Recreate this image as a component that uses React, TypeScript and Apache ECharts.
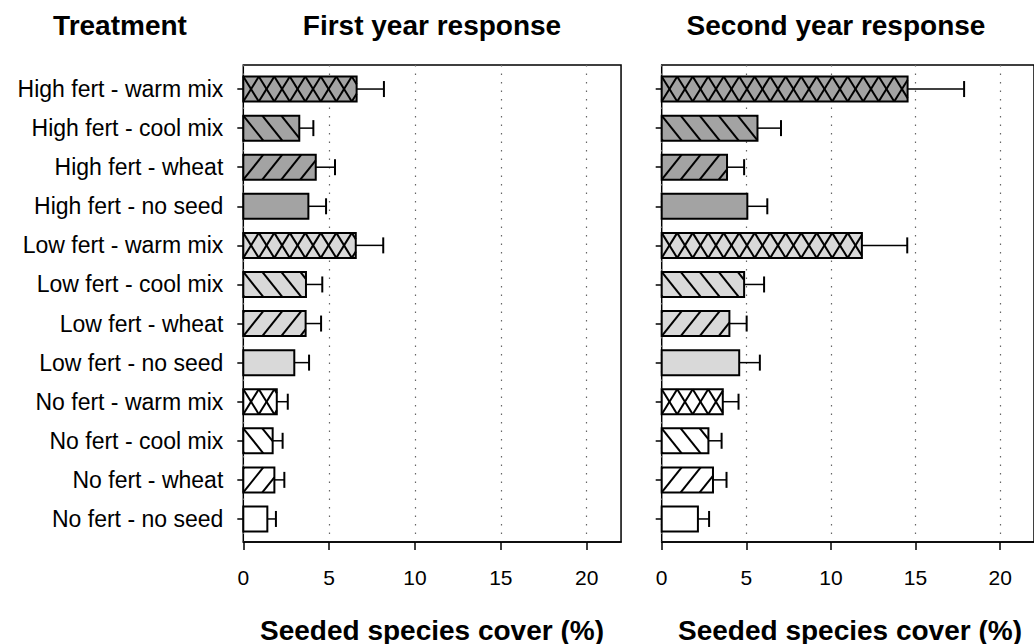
import React, { useEffect, useRef } from "react";
import * as echarts from "echarts";

const categories = [
  "High fert - warm mix",
  "High fert - cool mix",
  "High fert - wheat",
  "High fert - no seed",
  "Low fert - warm mix",
  "Low fert - cool mix",
  "Low fert - wheat",
  "Low fert - no seed",
  "No fert - warm mix",
  "No fert - cool mix",
  "No fert - wheat",
  "No fert - no seed",
];
const fertLevel = [0, 0, 0, 0, 1, 1, 1, 1, 2, 2, 2, 2];
const seedMix = ["warm", "cool", "wheat", "none", "warm", "cool", "wheat", "none", "warm", "cool", "wheat", "none"];

const firstYearMean = [6.6, 3.26, 4.22, 3.79, 6.55, 3.65, 3.63, 2.97, 1.95, 1.71, 1.81, 1.4];
const firstYearSE = [1.59, 0.82, 1.12, 1.03, 1.6, 0.95, 0.9, 0.86, 0.64, 0.58, 0.58, 0.5];
const secondYearMean = [14.53, 5.66, 3.86, 5.06, 11.83, 4.87, 4.0, 4.58, 3.61, 2.76, 3.03, 2.14];
const secondYearSE = [3.34, 1.39, 1.01, 1.18, 2.68, 1.18, 1.02, 1.22, 0.93, 0.78, 0.8, 0.66];

const xTicks = [0, 5, 10, 15, 20];
const xMax = 22;

const FONT = '"Liberation Sans", Arial, Helvetica, sans-serif';
const fertFill = ["#a3a3a3", "#d9d9d9", "#ffffff"];

function hatchLines(x0: number, x1: number, yt: number, yb: number, p: number, d: number, dir: number) {
  const out: any[] = [];
  if (x1 - x0 < 1) return out;
  const kStart = -Math.ceil(d / p) - 1;
  for (let k = kStart; x0 + k * p < x1; k++) {
    const o = x0 + k * p;
    const tlo = Math.max(0, (x0 - o) / d);
    const thi = Math.min(1, (x1 - o) / d);
    if (tlo >= thi) continue;
    const ya = dir === 1 ? yb : yt;
    const yz = dir === 1 ? yt : yb;
    out.push({
      type: "line",
      shape: {
        x1: o + d * tlo,
        y1: ya + (yz - ya) * tlo,
        x2: o + d * thi,
        y2: ya + (yz - ya) * thi,
      },
      style: { stroke: "#000", lineWidth: 2 },
      silent: true,
    });
  }
  return out;
}

function makeRenderItem() {
  return (params: any, api: any) => {
    const val = api.value(0);
    const idx = api.value(1);
    const se = api.value(2);
    const p0 = api.coord([0, idx]);
    const p1 = api.coord([val, idx]);
    const pe = api.coord([val + se, idx]);
    const h = 25;
    const yc = p0[1];
    const yt = yc - h / 2;
    const yb = yc + h / 2;
    const x0 = p0[0];
    const x1 = p1[0];
    const fill = fertFill[fertLevel[idx]];
    const mix = seedMix[idx];
    let hatch: any[] = [];
    if (mix === "warm") {
      hatch = hatch.concat(hatchLines(x0, x1, yt, yb, 15.5, 15.5, 1));
      hatch = hatch.concat(hatchLines(x0, x1, yt, yb, 15.5, 15.5, -1));
    } else if (mix === "cool") {
      hatch = hatchLines(x0, x1, yt, yb, 19, 20, -1);
    } else if (mix === "wheat") {
      hatch = hatchLines(x0, x1, yt, yb, 19, 20, 1);
    }
    return {
      type: "group",
      children: [
        { type: "rect", shape: { x: x0, y: yt, width: x1 - x0, height: h }, style: { fill, stroke: "none" } },
        ...hatch,
        {
          type: "rect",
          shape: { x: x0, y: yt, width: x1 - x0, height: h },
          style: { fill: "none", stroke: "#000", lineWidth: 2 },
        },
        { type: "line", shape: { x1: x1, y1: yc, x2: pe[0], y2: yc }, style: { stroke: "#000", lineWidth: 1.5 } },
        { type: "line", shape: { x1: pe[0], y1: yc - 8, x2: pe[0], y2: yc + 8 }, style: { stroke: "#000", lineWidth: 2 } },
      ],
    };
  };
}

function frameXAxis(gridIndex: number) {
  return {
    type: "value",
    gridIndex,
    min: 0,
    max: xMax,
    position: "bottom",
    axisLine: { show: true, lineStyle: { color: "#000", width: 1.5 } },
    axisTick: { show: true, length: 8, customValues: xTicks, lineStyle: { color: "#000", width: 1.5 } },
    axisLabel: {
      show: true,
      customValues: xTicks,
      margin: 25,
      fontSize: 21,
      color: "#000",
      fontFamily: FONT,
    },
    splitLine: { show: true, lineStyle: { color: "#666", width: 1.2, type: [1.5, 7] } },
  };
}

function barXAxis(gridIndex: number) {
  return { type: "value", gridIndex, min: 0, max: xMax, show: false };
}

function catYAxis(gridIndex: number, showLabels: boolean) {
  return {
    type: "category",
    gridIndex,
    data: categories,
    inverse: true,
    axisLine: { show: false },
    axisTick: { show: true, alignWithLabel: true, length: 6, lineStyle: { color: "#000", width: 1.5 } },
    axisLabel: { show: showLabels, fontSize: 23, color: "#000", margin: 20, fontFamily: FONT },
    splitLine: { show: false },
  };
}

export default function App() {
  const ref = useRef<HTMLDivElement>(null);
  useEffect(() => {
    if (!ref.current) return;
    const chart = echarts.init(ref.current, undefined, { renderer: "svg" });
    const leftX = 243.3;
    const leftW = 17.17 * xMax;
    const rightX = 661.7;
    const rightW = 17.25 * xMax;
    const frameTop = 65;
    const frameH = 477;
    const barTop = 69.5;
    const barH = 469;
    const option: any = {
      animation: false,
      backgroundColor: "#fff",
      grid: [
        { left: leftX, top: frameTop, width: leftW, height: frameH, show: true, borderColor: "#000", borderWidth: 1.5, backgroundColor: "transparent" },
        { left: leftX, top: barTop, width: leftW, height: barH },
        { left: rightX, top: frameTop, width: rightW, height: frameH, show: true, borderColor: "#000", borderWidth: 1.5, backgroundColor: "transparent" },
        { left: rightX, top: barTop, width: rightW, height: barH },
      ],
      xAxis: [frameXAxis(0), barXAxis(1), frameXAxis(2), barXAxis(3)],
      yAxis: [
        { type: "value", gridIndex: 0, show: false },
        catYAxis(1, true),
        { type: "value", gridIndex: 2, show: false },
        catYAxis(3, false),
      ],
      series: [
        {
          type: "custom",
          name: "First year",
          xAxisIndex: 1,
          yAxisIndex: 1,
          renderItem: makeRenderItem(),
          encode: { x: 0, y: 1 },
          data: firstYearMean.map((v, i) => [v, i, firstYearSE[i]]),
          clip: false,
        },
        {
          type: "custom",
          name: "Second year",
          xAxisIndex: 3,
          yAxisIndex: 3,
          renderItem: makeRenderItem(),
          encode: { x: 0, y: 1 },
          data: secondYearMean.map((v, i) => [v, i, secondYearSE[i]]),
          clip: false,
        },
      ],
      graphic: [
        { type: "text", x: 120, y: 25, style: { text: "Treatment", font: `bold 28px ${FONT}`, fill: "#000", align: "center", verticalAlign: "middle" } },
        { type: "text", x: 432, y: 25, style: { text: "First year response", font: `bold 28px ${FONT}`, fill: "#000", align: "center", verticalAlign: "middle" } },
        { type: "text", x: 836, y: 25, style: { text: "Second year response", font: `bold 28px ${FONT}`, fill: "#000", align: "center", verticalAlign: "middle" } },
        { type: "text", x: 432, y: 630, style: { text: "Seeded species cover (%)", font: `bold 28px ${FONT}`, fill: "#000", align: "center", verticalAlign: "middle" } },
        { type: "text", x: 850, y: 630, style: { text: "Seeded species cover (%)", font: `bold 28px ${FONT}`, fill: "#000", align: "center", verticalAlign: "middle" } },
      ],
    };
    chart.setOption(option);
    return () => chart.dispose();
  }, []);
  return <div ref={ref} style={{ position: "absolute", left: 0, top: 0, width: 1034, height: 644 }} />;
}
